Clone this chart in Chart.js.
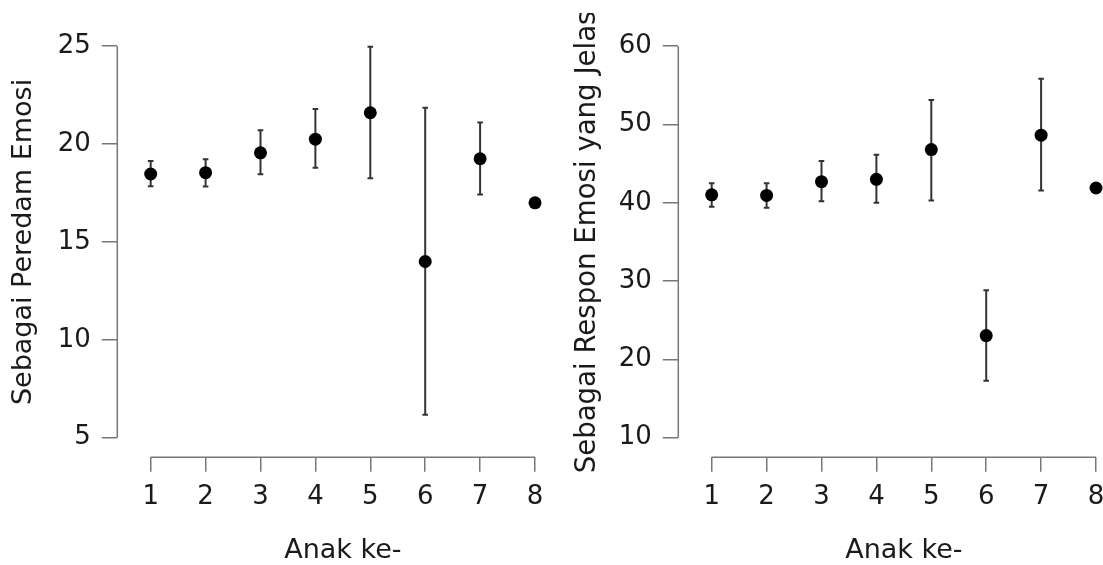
<!DOCTYPE html>
<html><head><meta charset="utf-8">
<script src="https://cdn.jsdelivr.net/npm/chart.js@4.4.1/dist/chart.umd.min.js"></script>
<style>
html,body{margin:0;padding:0;background:#fff;width:1103px;height:565px;overflow:hidden;}
.panel{position:absolute;overflow:hidden;background:#fff;}
#p1{left:0;top:0;width:561px;height:565px;}
#p2{left:561px;top:13px;width:542px;height:552px;}
#p2 canvas{position:absolute;top:-13px;left:0;}
#p1 canvas{position:absolute;top:0;left:0;}
</style></head><body>
<div class="panel" id="p1"><canvas id="c1" width="580" height="570"></canvas></div>
<div class="panel" id="p2"><canvas id="c2" width="580" height="570"></canvas></div>
<script>
// ---- data ----
const categories = [1, 2, 3, 4, 5, 6, 7, 8];
const xTickLabels = ['1', '2', '3', '4', '5', '6', '7', '8'];
const xTitle = 'Anak ke-';

const peredamTitle = 'Sebagai Peredam Emosi';
const peredamMean  = [18.47, 18.54, 19.55, 20.25, 21.60, 14.00, 19.25, 17.00];
const peredamLower = [17.84, 17.83, 18.46, 18.79, 18.25, 6.17, 17.43, null];
const peredamUpper = [19.14, 19.22, 20.70, 21.79, 24.97, 21.85, 21.10, null];
const peredamTicks = [5, 10, 15, 20, 25];

const responTitle = 'Sebagai Respon Emosi yang Jelas';
const responMean  = [41.02, 40.94, 42.70, 43.00, 46.79, 23.04, 48.64, 41.89];
const responLower = [39.50, 39.38, 40.20, 40.00, 40.28, 17.28, 41.56, null];
const responUpper = [42.50, 42.50, 45.35, 46.12, 53.12, 28.84, 55.84, null];
const responTicks = [10, 20, 30, 40, 50, 60];

// ---- styling ----
Chart.defaults.font.family = "'DejaVu Sans', 'Liberation Sans', sans-serif";
const AXIS_COLOR = '#777777';
const AXIS_W = 1.5;
const TEXT_COLOR = '#1a1a1a';

const errorBars = {
  id: 'errorBars',
  beforeDatasetsDraw(chart) {
    const {ctx} = chart;
    const x = chart.scales.x, y = chart.scales.y;
    const ds = chart.data.datasets[0];
    ctx.save();
    ctx.strokeStyle = '#333333';
    ctx.lineWidth = 2;
    const cap = 2.8;
    ds.data.forEach(pt => {
      if (pt.lo == null || pt.hi == null) return;
      const px = x.getPixelForValue(pt.x);
      const y1 = y.getPixelForValue(pt.lo);
      const y2 = y.getPixelForValue(pt.hi);
      ctx.beginPath();
      ctx.moveTo(px, y1); ctx.lineTo(px, y2);
      ctx.moveTo(px - cap, y1); ctx.lineTo(px + cap, y1);
      ctx.moveTo(px - cap, y2); ctx.lineTo(px + cap, y2);
      ctx.stroke();
    });
    ctx.restore();
  }
};

const rAxes = {
  id: 'rAxes',
  afterDraw(chart) {
    const {ctx, chartArea} = chart;
    const x = chart.scales.x, y = chart.scales.y;
    const yt = y.ticks.map(t => t.value);
    const xt = x.ticks.map(t => t.value);
    ctx.save();
    ctx.strokeStyle = AXIS_COLOR;
    ctx.lineWidth = AXIS_W;
    ctx.beginPath();
    ctx.moveTo(chartArea.left, y.getPixelForValue(Math.min(...yt)));
    ctx.lineTo(chartArea.left, y.getPixelForValue(Math.max(...yt)));
    ctx.moveTo(x.getPixelForValue(Math.min(...xt)), chartArea.bottom);
    ctx.lineTo(x.getPixelForValue(Math.max(...xt)), chartArea.bottom);
    ctx.stroke();
    ctx.restore();
  }
};

function makeChart(id, mean, lower, upper, yTicks, yMin, yMax, yTitle, titlePad, titleSize) {
  const data = categories.map((c, i) => ({x: c, y: mean[i], lo: lower[i], hi: upper[i]}));
  return new Chart(document.getElementById(id), {
    type: 'scatter',
    data: {datasets: [{
      data,
      pointRadius: 6.5, pointHoverRadius: 6.5,
      backgroundColor: '#000', borderColor: '#000', borderWidth: 0
    }]},
    options: {
      responsive: false, animation: false, events: [],
      layout: {padding: {top: 13.5, right: 11.6, bottom: 0, left: 0}},
      plugins: {legend: {display: false}, tooltip: {enabled: false}},
      scales: {
        x: {
          type: 'linear', min: 0.392, max: 8.608,
          afterBuildTicks: s => { s.ticks = categories.map(v => ({value: v})); },
          afterFit: s => { s.height = 112.7; },
          ticks: {
            callback: v => xTickLabels[categories.indexOf(v)],
            font: {size: 26}, color: TEXT_COLOR, padding: 10,
            maxRotation: 0, autoSkip: false
          },
          grid: {drawOnChartArea: false, drawTicks: true, tickLength: 14.5,
                 color: AXIS_COLOR, lineWidth: AXIS_W},
          border: {display: false},
          title: {display: true, text: xTitle, font: {size: 27}, color: TEXT_COLOR,
                  padding: {top: 0, bottom: 3}}
        },
        y: {
          type: 'linear', min: yMin, max: yMax,
          afterBuildTicks: s => { s.ticks = yTicks.map(v => ({value: v})); },
          afterFit: s => { s.width = 117.3; },
          ticks: {
            callback: v => String(v),
            font: {size: 26}, color: TEXT_COLOR, padding: 11, autoSkip: false
          },
          grid: {drawOnChartArea: false, drawTicks: true, tickLength: 15.5,
                 color: AXIS_COLOR, lineWidth: AXIS_W},
          border: {display: false},
          title: {display: true, text: yTitle, font: {size: titleSize}, color: TEXT_COLOR,
                  padding: {top: titlePad, bottom: 0}}
        }
      }
    },
    plugins: [errorBars, rAxes]
  });
}

makeChart('c1', peredamMean, peredamLower, peredamUpper, peredamTicks, 4, 26, peredamTitle, 8, 27);
makeChart('c2', responMean, responLower, responUpper, responTicks, 7.5, 62.5, responTitle, 10, 27.6);
</script>
</body></html>
